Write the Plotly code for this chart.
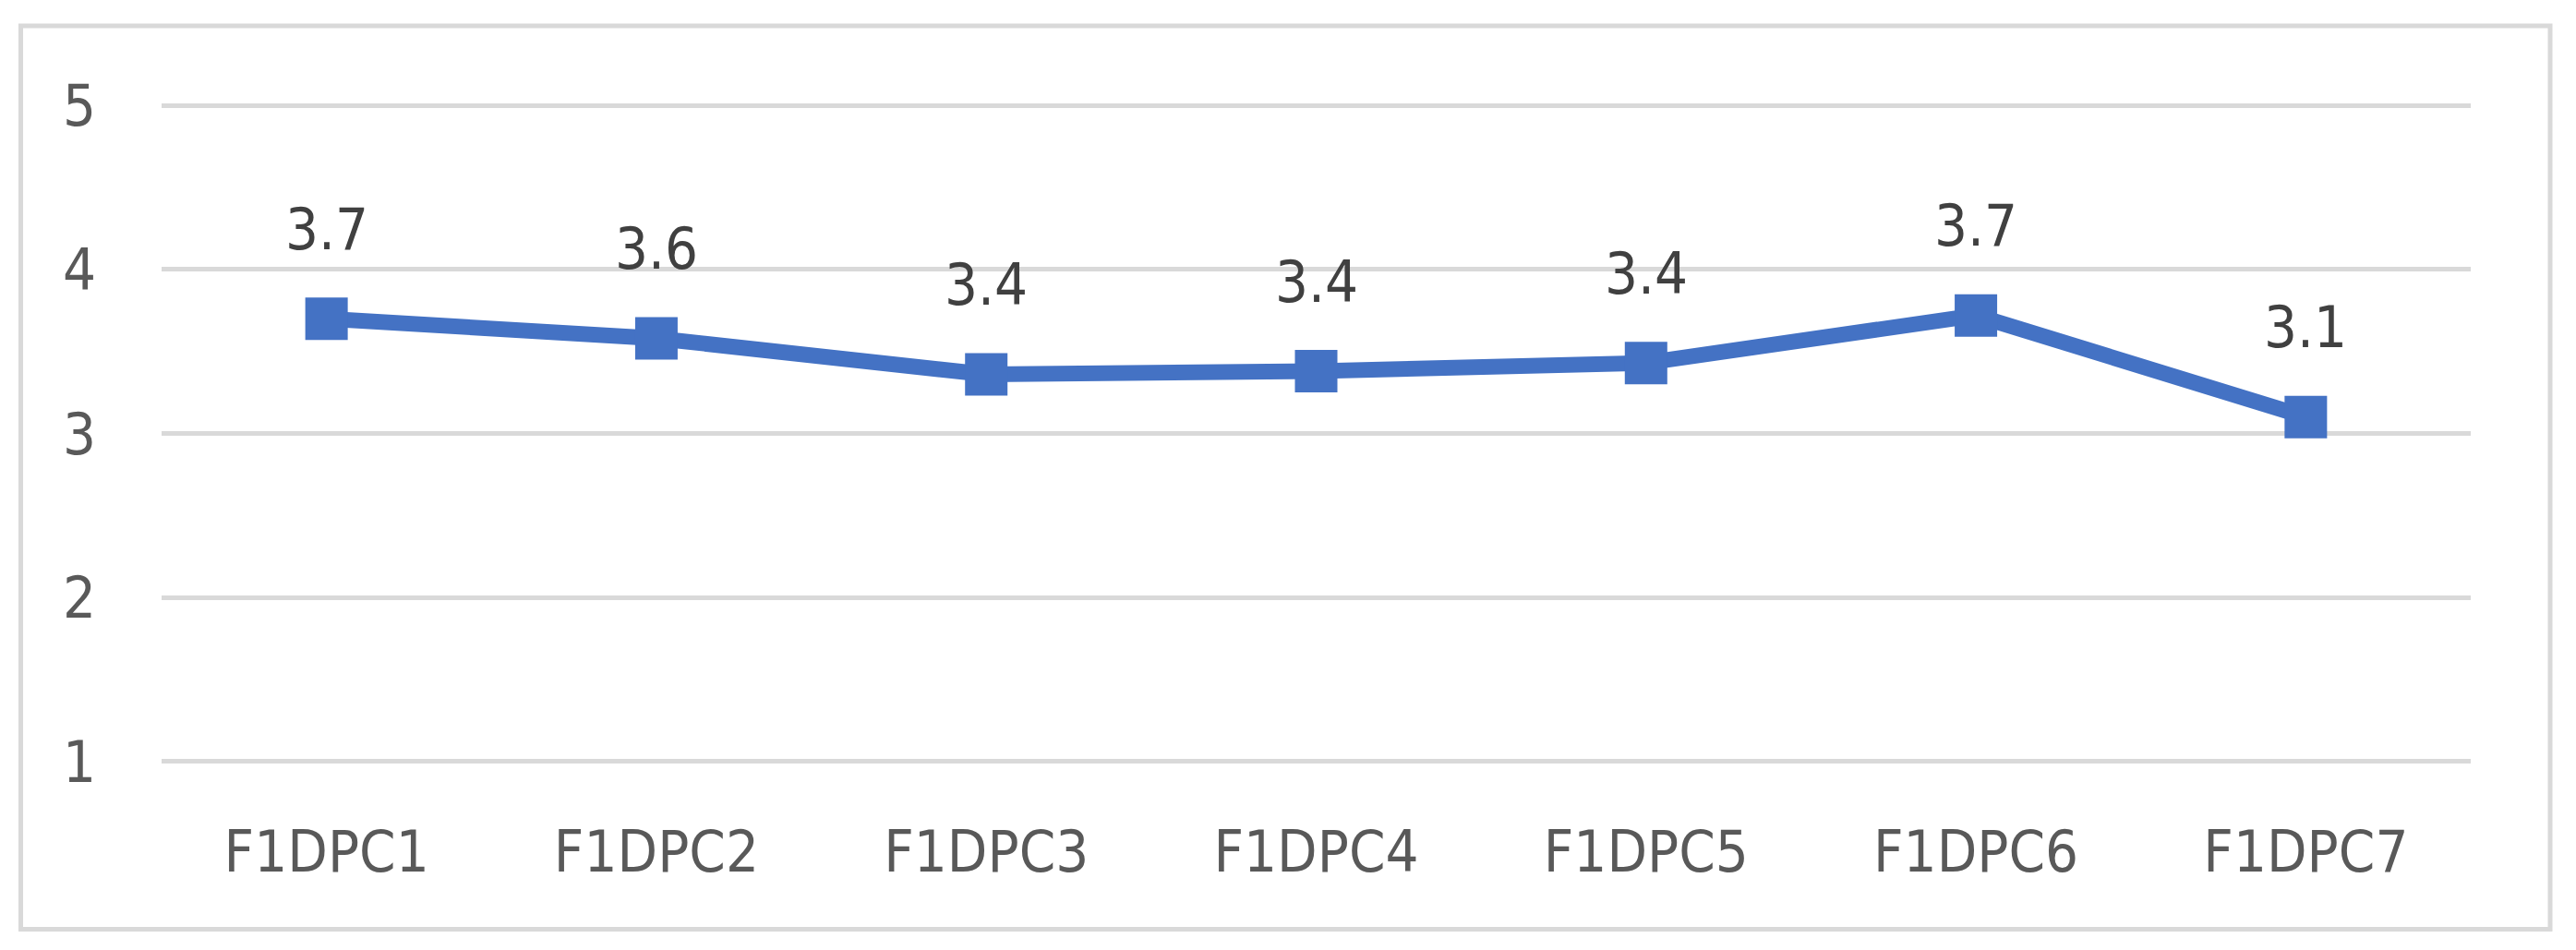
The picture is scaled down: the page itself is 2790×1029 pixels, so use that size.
import plotly.graph_objects as go

categories = ["F1DPC1", "F1DPC2", "F1DPC3", "F1DPC4", "F1DPC5", "F1DPC6", "F1DPC7"]
values = [3.70, 3.58, 3.36, 3.38, 3.43, 3.72, 3.10]
y_ticks = [1, 2, 3, 4, 5]

W, H = 2790, 1029
ML, MR, MT, MB = 175, 114, 109, 199
FONT = "DejaVu Sans Condensed, Noto Sans, sans-serif"
FS = 63
BLUE = "#4472C4"

fig = go.Figure()
fig.add_trace(go.Scatter(
    x=categories, y=values, mode="lines+markers",
    line=dict(color=BLUE, width=17),
    marker=dict(symbol="square", size=46, color=BLUE),
    hoverinfo="skip", showlegend=False,
))

for c, v in zip(categories, values):
    fig.add_annotation(x=c, y=v, text=f"{v:.1f}", showarrow=False,
                       yshift=97, yanchor="middle", xanchor="center",
                       font=dict(family=FONT, size=FS, color="#404040"))

pw = W - ML - MR
ph = H - MT - MB
def px_to_paper_x(px):
    return (px - ML) / pw
def py_to_paper_y(py):
    return 1 - (py - MT) / ph

fig.add_shape(type="rect", xref="paper", yref="paper",
              x0=px_to_paper_x(22.5), x1=px_to_paper_x(2762),
              y0=py_to_paper_y(1006.5), y1=py_to_paper_y(28),
              line=dict(color="#D9D9D9", width=5), layer="below")

fig.update_layout(
    width=W, height=H,
    margin=dict(l=ML, r=MR, t=MT, b=MB, pad=0),
    paper_bgcolor="white", plot_bgcolor="white",
    font=dict(family=FONT, size=FS, color="#595959"),
    xaxis=dict(type="category", range=[-0.5, 6.5], showgrid=False,
               zeroline=False, showline=False, ticks="",
               ticklabelstandoff=50,
               tickfont=dict(family=FONT, size=FS, color="#595959")),
    yaxis=dict(range=[0.97, 5.03], tickvals=y_ticks, showgrid=True,
               gridcolor="#D9D9D9", gridwidth=5, zeroline=False,
               showline=False, ticks="", ticklabelstandoff=70,
               tickfont=dict(family=FONT, size=FS, color="#595959")),
)

fig.write_html("out.html", config={"displayModeBar": False},
               post_script="document.body.style.margin='0';document.body.style.padding='0';")
